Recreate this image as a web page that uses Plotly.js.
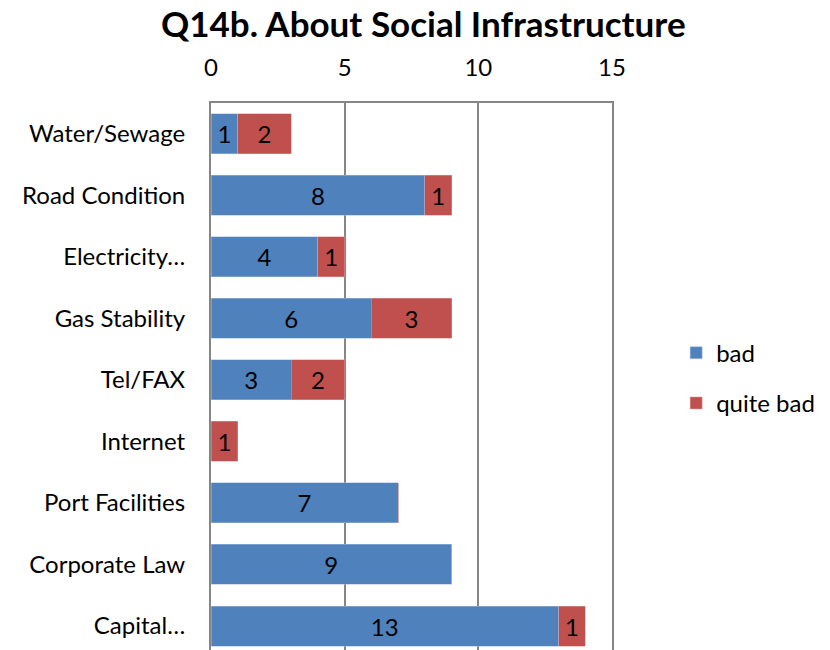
<!DOCTYPE html>
<html><head><meta charset="utf-8">
<script src="https://cdn.plot.ly/plotly-3.0.1.min.js"></script>
<style>html,body{margin:0;padding:0;background:#fff;}</style>
</head><body>
<div id="chart" style="width:830px;height:650px;"></div>
<script>
var categories = ["Water/Sewage","Road Condition","Electricity…","Gas Stability","Tel/FAX","Internet","Port Facilities","Corporate Law","Capital…"];
var badValues = [1,8,4,6,3,0,7,9,13];
var quiteBadValues = [2,1,1,3,2,1,0,0,1];
var xTicks = [0,5,10,15];

function labels(arr){ return arr.map(function(v){ return v ? String(v) : ''; }); }

var common = {
  type:'bar', orientation:'h', y: categories,
  textposition:'inside', insidetextanchor:'middle', constraintext:'none',
  textfont:{family:'Lato, sans-serif', size:24, color:'#000'},
  hoverinfo:'none'
};
var t1 = Object.assign({}, common, {name:'bad', x: badValues, text: labels(badValues),
  marker:{color:'#4F81BD', line:{color:'#A7C0DE', width:0.5}}, legendgroup:'a'});
var t2 = Object.assign({}, common, {name:'quite bad', x: quiteBadValues, text: labels(quiteBadValues),
  marker:{color:'#C0504D', line:{color:'#DCA09E', width:0.5}}, legendgroup:'b'});

var layout = {
  width:830, height:650,
  margin:{l:211, r:218, t:103, b:0, pad:0},
  barmode:'stack', bargap:0.35,
  font:{family:'Lato, sans-serif', size:24, color:'#000'},
  title:{text:'<b>Q14b. About Social Infrastructure</b>', font:{size:35, family:'Lato, sans-serif'}, x:0.51, xanchor:'center', y:0.962, yanchor:'middle'},
  xaxis:{side:'top', range:[0,15], tickvals:xTicks, ticktext:xTicks.map(String),
    showgrid:true, gridcolor:'#868686', gridwidth:2, zeroline:false,
    showline:true, linecolor:'#868686', linewidth:2, mirror:false,
    ticks:'outside', ticklen:15, tickcolor:'rgba(0,0,0,0)', tickfont:{size:24}, fixedrange:true},
  yaxis:{type:'category', range:[8.39,-0.5], showgrid:false, zeroline:false,
    showline:true, linecolor:'#868686', linewidth:2, mirror:true,
    ticks:'outside', ticklen:19, tickcolor:'rgba(0,0,0,0)', tickfont:{size:24}, fixedrange:true},
  showlegend:true,
  legend:{x:1.16, y:0.497, xanchor:'left', yanchor:'middle', traceorder:'grouped', tracegroupgap:16,
    font:{size:24}, bgcolor:'rgba(0,0,0,0)', itemwidth:30},
  plot_bgcolor:'#fff', paper_bgcolor:'#fff'
};
Plotly.newPlot('chart',[t1,t2],layout,{displayModeBar:false, staticPlot:true});
</script>
</body></html>
